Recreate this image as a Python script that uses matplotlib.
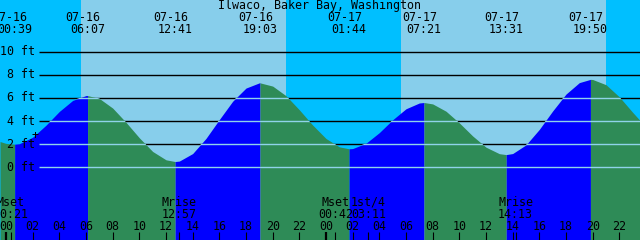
import numpy as np
import matplotlib
matplotlib.use("Agg")
import matplotlib.pyplot as plt
from matplotlib.patches import Polygon

# tide curve, hours since 07-16 00:00, height in ft
tide_hours = [-0.45, 0, 0.65, 1, 2, 3, 4, 5, 6, 6.117, 7, 8, 9, 10, 11, 12, 12.683,
              13, 14, 15, 16, 17, 18, 19, 19.05, 20, 21, 22, 23, 24, 25, 25.733,
              26, 27, 28, 29, 30, 31, 31.35, 32, 33, 34, 35, 36, 37, 37.517,
              38, 39, 40, 41, 42, 43, 43.833, 44, 45, 46, 47, 47.55]
tide_ft = [2.23, 2.07, 2.0, 2.04, 2.60, 3.64, 4.83, 5.78, 6.20, 6.2, 5.95, 5.12, 3.89, 2.55, 1.37, 0.65, 0.5,
           0.54, 1.19, 2.50, 4.13, 5.71, 6.85, 7.30, 7.3, 7.02, 6.19, 4.97, 3.65, 2.49, 1.77, 1.6,
           1.62, 2.08, 3.00, 4.11, 5.06, 5.56, 5.6, 5.48, 4.85, 3.84, 2.71, 1.74, 1.18, 1.1,
           1.19, 1.94, 3.28, 4.87, 6.33, 7.32, 7.6, 7.59, 7.14, 6.09, 4.75, 4.05]

# highs and lows
event_hours = [0.65, 6.117, 12.683, 19.05, 25.733, 31.35, 37.517, 43.833]
event_dates = ["07-16", "07-16", "07-16", "07-16", "07-17", "07-17", "07-17", "07-17"]
event_times = ["00:39", "06:07", "12:41", "19:03", "01:44", "07:21", "13:31", "19:50"]

# moon events
moon_hours = [0.35, 12.95, 24.7, 27.183, 38.217]
moon_names = ["Mset", "Mrise", "Mset", "1st/4", "Mrise"]
moon_times = ["00:21", "12:57", "00:42", "03:11", "14:13"]

sunrise = [5.62, 29.62]
sunset = [21.0, 45.0]

levels = [0, 2, 4, 6, 8, 10]
hour_ticks = list(range(0, 49, 2))
hour_labels = ["%02d" % (h % 24) for h in hour_ticks]

NIGHT = "#00BFFF"
DAY = "#87CEEB"
RISE = "#0000FF"
FALL = "#2E8B57"
FONT = dict(family="DejaVu Sans Mono", fontsize=8.4, color="black")

X0, X1 = -0.45, 47.55
Y0, Y1 = -6.28, 14.46

fig = plt.figure(figsize=(6.4, 2.4), dpi=100)
ax = fig.add_axes([0, 0, 1, 1])
ax.set_xlim(X0, X1)
ax.set_ylim(Y0, Y1)
ax.axis("off")

# sky
ax.axvspan(X0, X1, color=NIGHT, zorder=0, lw=0)
for r, s in zip(sunrise, sunset):
    ax.axvspan(r, s, color=DAY, zorder=0.5, lw=0)

# depth lines (black over the sky)
ax.hlines(levels, 2.475, X1, color="black", lw=1.0, zorder=1)

# water, blue while rising, green while falling
t = np.array(tide_hours)
h = np.array(tide_ft)
bounds = [X0] + event_hours + [X1]
for a, b in zip(bounds[:-1], bounds[1:]):
    m = (t >= a - 1e-9) & (t <= b + 1e-9)
    col = RISE if h[m][-1] > h[m][0] else FALL
    ax.fill_between(t[m], h[m], Y0, color=col, lw=0, zorder=2)

water = Polygon(np.column_stack([np.r_[t, X1, X0], np.r_[h, Y0, Y0]]),
                closed=True, transform=ax.transData)
lc = ax.hlines(levels, 2.475, X1, color="#8FD3EA", lw=1.0, zorder=3)
lc.set_clip_path(water)

# y labels
for lv in levels:
    ax.text(2.2, lv, "%d ft" % lv, ha="right", va="center", zorder=4, **FONT)
ax.text(2.14, 2.78, "+", ha="center", va="center", zorder=4, **FONT)

ytop = ax.get_xaxis_transform()
# title and tide event labels
ax.text(0.5, 1 - 6 / 240, "Ilwaco, Baker Bay, Washington", transform=ax.transAxes,
        ha="center", va="center", zorder=4, **FONT)
for x, d, s in zip(event_hours, event_dates, event_times):
    ax.text(x - 0.34, 1 - 17.5 / 240, d, transform=ytop, ha="center", va="center", zorder=4, **FONT)
    ax.text(x, 1 - 29.5 / 240, s, transform=ytop, ha="center", va="center", zorder=4, **FONT)

# moon labels
for x, n, s in zip(moon_hours, moon_names, moon_times):
    ax.text(x, 1 - 202 / 240, n, transform=ytop, ha="center", va="center", zorder=4, **FONT)
    ax.text(x, 1 - 214 / 240, s, transform=ytop, ha="center", va="center", zorder=4, **FONT)

# hour axis
for x, lab in zip(hour_ticks, hour_labels):
    ax.text(x, 1 - 226 / 240, lab, transform=ytop, ha="center", va="center", zorder=4, **FONT)
    ax.vlines(x, 0, 8 / 240, transform=ytop, color="black",
              lw=1.6 if x % 24 == 0 else 0.8, zorder=4)
ax.vlines(moon_hours, 0, 8 / 240, transform=ytop, color="black", lw=0.8, zorder=4)

fig.savefig("out.png", dpi=100)
